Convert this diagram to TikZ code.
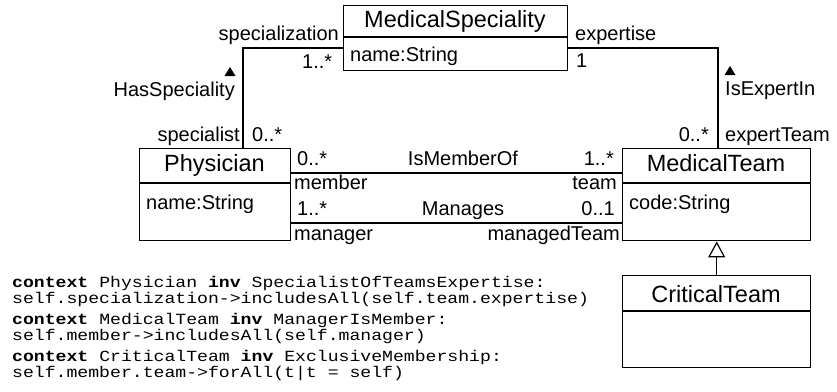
\documentclass[tikz,border=0pt]{standalone}
\usepackage{fontspec}
\usepackage{graphicx}
\setmainfont{Liberation Sans}
\newfontfamily\codefont{Liberation Mono}
\usetikzlibrary{arrows.meta}

% OCL lines are set slightly widened
\newcommand{\oclwide}[1]{\scalebox{1.17}[1]{#1}}

\tikzset{
  classbox/.style={draw, line width=1.4pt, inner sep=0pt, anchor=north west},
  divider/.style={line width=1.4pt},
  titletext/.style={font=\fontsize{23.5}{26}\selectfont, inner sep=0pt, anchor=base},
  attrtext/.style={font=\fontsize{20}{22}\selectfont, inner sep=0pt, anchor=base west},
  lbl/.style={font=\fontsize{20}{22}\selectfont, inner sep=0pt},
  assoc/.style={line width=1.3pt},
  genline/.style={line width=1.2pt, -{Triangle[open, length=16pt, width=17pt, fill=white]}},
  codeline/.style={font=\codefont\fontsize{15.5}{16}\selectfont, inner sep=0pt, anchor=base west},
}

\begin{document}
\begin{tikzpicture}[x=1pt, y=-1pt]
\useasboundingbox (0,0) rectangle (837,391);
\fill[white] (0,0) rectangle (837,391);

% ---- classes ----
\node[classbox, minimum width=224pt, minimum height=65pt] (spec) at (343,5) {};
\draw[divider] (spec.west |- 0,37) -- (spec.east |- 0,37);
\node[titletext] (specT) at (455,27) {MedicalSpeciality};
\node[attrtext] (specA) at (350,61) {name:String};

\node[classbox, minimum width=151pt, minimum height=92pt] (phys) at (139,148) {};
\draw[divider] (phys.west |- 0,183) -- (phys.east |- 0,183);
\node[titletext] (physT) at (214.5,171) {Physician};
\node[attrtext] (physA) at (146,209) {name:String};

\node[classbox, minimum width=188pt, minimum height=92pt] (team) at (622,148) {};
\draw[divider] (team.west |- 0,183) -- (team.east |- 0,183);
\node[titletext] (teamT) at (716,171) {MedicalTeam};
\node[attrtext] (teamA) at (629,209) {code:String};

\node[classbox, minimum width=188pt, minimum height=92pt] (crit) at (622,275) {};
\draw[divider] (crit.west |- 0,311) -- (crit.east |- 0,311);
\node[titletext] (critT) at (716,302) {CriticalTeam};

% ---- HasSpeciality ----
\coordinate (hsTurn) at (243,48);
\draw[assoc] (spec.west |- hsTurn) -| (phys.north -| hsTurn);
\node[lbl, anchor=base east] (hsRoleA) at (339,40) {specialization};
\node[lbl, anchor=base west] (hsMultA) at (302,68) {1..*};
\node[lbl, anchor=base east] (hsName) at (235,96) {HasSpeciality};
\fill (224.5,76) -- (235.5,76) -- (230,67) -- cycle;
\node[lbl, anchor=base east] (hsRoleB) at (240,141) {specialist};
\node[lbl, anchor=base west] (hsMultB) at (252,141) {0..*};

% ---- IsExpertIn ----
\coordinate (ieTurn) at (718,48);
\draw[assoc] (spec.east |- ieTurn) -| (team.north -| ieTurn);
\node[lbl, anchor=base west] (ieRoleA) at (575,40) {expertise};
\node[lbl, anchor=base west] (ieMultA) at (576,67) {1};
\fill (724.5,75) -- (735.5,75) -- (730,66) -- cycle;
\node[lbl, anchor=base west] (ieName) at (725,95) {IsExpertIn};
\node[lbl, anchor=base east] (ieMultB) at (709,141) {0..*};
\node[lbl, anchor=base west] (ieRoleB) at (725,141) {expertTeam};

% ---- IsMemberOf ----
\coordinate (memberY) at (0,173);
\draw[assoc] (phys.east |- memberY) -- (team.west |- memberY);
\node[lbl, anchor=base west] (imMultA) at (297,165) {0..*};
\node[lbl, anchor=base] (imName) at (463,165) {IsMemberOf};
\node[lbl, anchor=base east] (imMultB) at (614,165) {1..*};
\node[lbl, anchor=base west] (imRoleA) at (294,189) {member};
\node[lbl, anchor=base east] (imRoleB) at (617,189) {team};

% ---- Manages ----
\coordinate (managesY) at (0,223);
\draw[assoc] (phys.east |- managesY) -- (team.west |- managesY);
\node[lbl, anchor=base west] (mgMultA) at (297,215) {1..*};
\node[lbl, anchor=base] (mgName) at (463,215) {Manages};
\node[lbl, anchor=base east] (mgMultB) at (615,215) {0..1};
\node[lbl, anchor=base west] (mgRoleA) at (294,240) {manager};
\node[lbl, anchor=base east] (mgRoleB) at (620,240) {managedTeam};

% ---- generalization ----
\draw[genline] (crit.north) -- (team.south);

% ---- OCL invariants ----
\node[codeline] (ocl1) at (12,287) {\oclwide{\textbf{context} Physician \textbf{inv} SpecialistOfTeamsExpertise:}};
\node[codeline] (ocl2) at (12,303) {\oclwide{self.specialization->includesAll(self.team.expertise)}};
\node[codeline] (ocl3) at (12,324) {\oclwide{\textbf{context} MedicalTeam \textbf{inv} ManagerIsMember:}};
\node[codeline] (ocl4) at (12,340) {\oclwide{self.member->includesAll(self.manager)}};
\node[codeline] (ocl5) at (12,361) {\oclwide{\textbf{context} CriticalTeam \textbf{inv} ExclusiveMembership:}};
\node[codeline] (ocl6) at (12,377) {\oclwide{self.member.team->forAll(t|t = self)}};
\end{tikzpicture}
\end{document}
